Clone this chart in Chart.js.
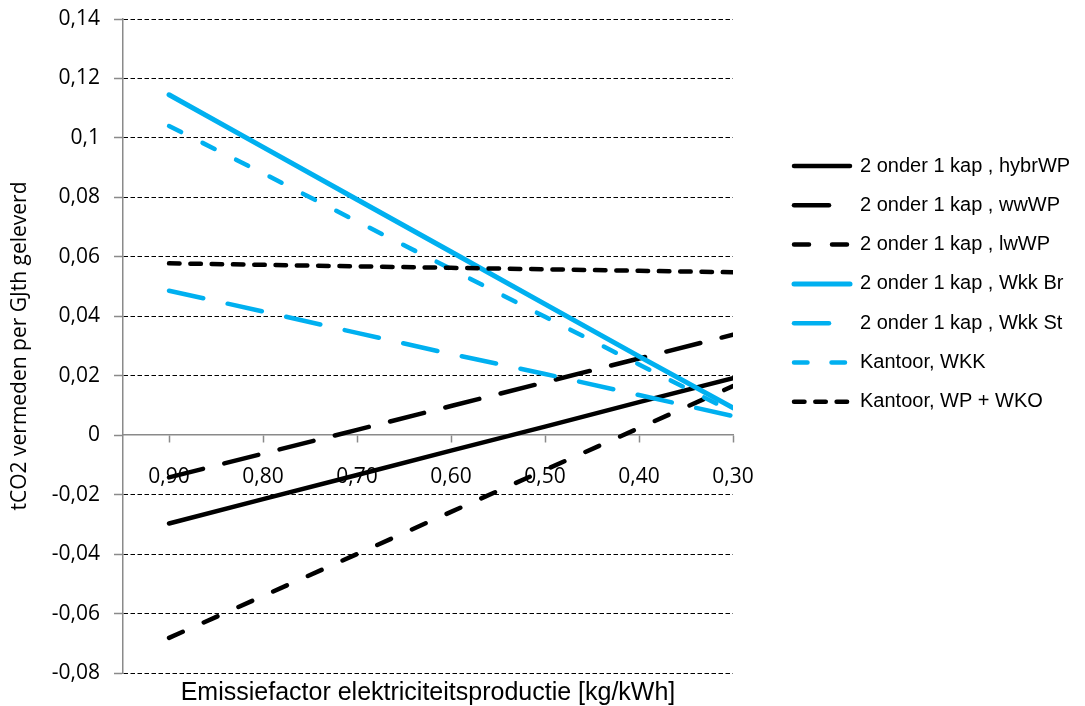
<!DOCTYPE html>
<html>
<head>
<meta charset="utf-8">
<script src="https://cdn.jsdelivr.net/npm/chart.js@4.4.1/dist/chart.umd.min.js"></script>
<style>
  html, body { margin: 0; padding: 0; background: #fff; }
  canvas { display: block; }
</style>
</head>
<body>
<canvas id="chart" width="1085" height="706"></canvas>
<script>
// x categories (emissiefactor) and the series
var xVals = [0.90, 0.80, 0.70, 0.60, 0.50, 0.40, 0.30];
var hybrWP = [-0.0297, -0.0215, -0.0134, -0.0052, 0.0029, 0.0111, 0.0192];
var wwWP = [-0.0142, -0.0062, 0.0018, 0.0098, 0.0178, 0.0258, 0.0338];
var lwWP = [-0.0682, -0.0541, -0.0400, -0.0258, -0.0117, 0.0024, 0.0165];
var wkkBr = [0.1145, 0.0969, 0.0793, 0.0617, 0.0441, 0.0265, 0.0092];
var wkkSt = [0.0486, 0.0416, 0.0344, 0.0273, 0.0206, 0.0135, 0.0064];
var kantoorWKK = [0.1040, 0.0881, 0.0719, 0.0559, 0.0398, 0.0238, 0.0078];
var kantoorWPWKO = [0.0578, 0.0573, 0.0568, 0.0563, 0.0558, 0.0553, 0.0548];

var seriesLabels = [
  '2 onder 1 kap , hybrWP',
  '2 onder 1 kap , wwWP',
  '2 onder 1 kap , lwWP',
  '2 onder 1 kap , Wkk Br',
  '2 onder 1 kap , Wkk St',
  'Kantoor, WKK',
  'Kantoor, WP + WKO'
];
var yTitle = 'tCO2 vermeden per GJth geleverd';
var xTitle = 'Emissiefactor elektriciteitsproductie [kg/kWh]';

var BLUE = '#00B0F0';
var BLACK = '#000000';

function pts(arr) {
  return arr.map(function (v, i) { return { x: xVals[i], y: v }; });
}

function makeSet(i, values, color, dash, width) {
  return {
    label: seriesLabels[i],
    data: pts(values),
    borderColor: color,
    backgroundColor: color,
    borderWidth: width,
    borderDash: dash,
    borderCapStyle: 'round',
    borderJoinStyle: 'round',
    pointRadius: 0,
    pointHoverRadius: 0,
    fill: false,
    tension: 0,
    order: 10 - i
  };
}

function commaNum(v) {
  var r = Math.round(v * 100) / 100;
  return String(r).replace('.', ',');
}

// legend sits right of the plot; keep it wide enough for its text
var legendWidthFix = {
  id: 'legendWidthFix',
  beforeLayout: function (chart) {
    var lg = chart.legend;
    if (lg && !lg._wfix) {
      var orig = lg.fit;
      lg.fit = function () {
        orig.call(this);
        this.width = 310.3;
      };
      lg._wfix = true;
    }
  }
};

var ctx = document.getElementById('chart').getContext('2d');

var chart = new Chart(ctx, {
  type: 'line',
  data: {
    datasets: [
      makeSet(0, hybrWP, BLACK, [], 4.5),
      makeSet(1, wwWP, BLACK, [35, 22], 4.5),
      makeSet(2, lwWP, BLACK, [15, 23], 4.5),
      makeSet(3, wkkBr, BLUE, [], 5),
      makeSet(4, wkkSt, BLUE, [35, 25], 4.5),
      makeSet(5, kantoorWKK, BLUE, [13.5, 24], 4.5),
      makeSet(6, kantoorWPWKO, BLACK, [10.5, 10.8], 4.5)
    ]
  },
  plugins: [legendWidthFix],
  options: {
    responsive: false,
    animation: false,
    devicePixelRatio: 1,
    layout: { padding: { left: 5, top: 19, right: 0, bottom: 0.5 } },
    plugins: {
      tooltip: { enabled: false },
      legend: {
        position: 'right',
        align: 'start',
        title: { display: true, text: ' ', font: { size: 10, lineHeight: 1 }, padding: { top: 107.7, bottom: 0 } },
        labels: {
          usePointStyle: true,
          pointStyle: 'line',
          pointStyleWidth: 56,
          padding: 19.3,
          color: '#000',
          font: { family: '"Liberation Sans", Arial, sans-serif', size: 20 },
          sort: function (a, b) { return a.datasetIndex - b.datasetIndex; },
          generateLabels: function (chart) {
            var items = Chart.defaults.plugins.legend.labels.generateLabels(chart);
            items.forEach(function (it) {
              var ds = chart.data.datasets[it.datasetIndex];
              it.lineDash = ds.borderDash;
              it.lineWidth = ds.borderWidth;
              it.lineCap = 'round';
              it.strokeStyle = ds.borderColor;
              it.fillStyle = ds.borderColor;
            });
            return items;
          }
        }
      }
    },
    scales: {
      x: {
        type: 'linear',
        reverse: true,
        min: 0.3,
        max: 0.949,
        position: { y: 0 },
        afterBuildTicks: function (axis) {
          axis.ticks = xVals.map(function (v) { return { value: v }; });
        },
        ticks: {
          autoSkip: false,
          maxRotation: 0,
          padding: 22,
          color: '#000',
          font: { family: '"Open Sans", sans-serif', size: 21 },
          callback: function (v) { return v.toFixed(2).replace('.', ','); }
        },
        grid: {
          drawOnChartArea: false,
          drawTicks: true,
          tickLength: 7,
          tickColor: '#8a8a8a',
          tickWidth: 1.5,
          color: '#8a8a8a'
        },
        border: { display: true, color: '#8a8a8a', width: 1.5 }
      },
      xt: {
        type: 'linear',
        position: 'bottom',
        display: true,
        min: 0,
        max: 1,
        grid: { display: false, drawTicks: false },
        ticks: { display: false },
        border: { display: false },
        title: {
          display: true,
          text: xTitle,
          color: '#000',
          font: { family: '"Liberation Sans", Arial, sans-serif', size: 25, lineHeight: 1 },
          padding: { top: 7.5, bottom: 0 }
        }
      },
      y: {
        type: 'linear',
        min: -0.08,
        max: 0.14,
        afterFit: function (s) {
          s.width = 118;
          s.paddingTop = 12;
          s.paddingBottom = 12;
        },
        ticks: {
          stepSize: 0.02,
          padding: 14,
          color: '#000',
          font: { family: '"Open Sans", sans-serif', size: 21 },
          callback: function (v) { return commaNum(v); }
        },
        grid: {
          color: function (c) {
            return (c.tick && Math.abs(c.tick.value) < 1e-9) ? 'rgba(0,0,0,0)' : '#000';
          },
          lineWidth: 1,
          tickLength: 9,
          tickColor: '#8a8a8a',
          tickWidth: 1.5,
          tickBorderDash: []
        },
        border: { display: true, color: '#8a8a8a', width: 1.5, dash: [4.5, 2.5] },
        title: {
          display: true,
          text: yTitle,
          color: '#000',
          font: { family: '"Open Sans", sans-serif', size: 21 },
          padding: { top: 2, bottom: 4 }
        }
      },
      yr: {
        type: 'linear',
        position: 'right',
        display: true,
        min: 0,
        max: 1,
        afterFit: function (s) { s.width = 41.7; },
        grid: { display: false, drawTicks: false },
        ticks: { display: false },
        border: { display: false }
      }
    }
  }
});
</script>
</body>
</html>
